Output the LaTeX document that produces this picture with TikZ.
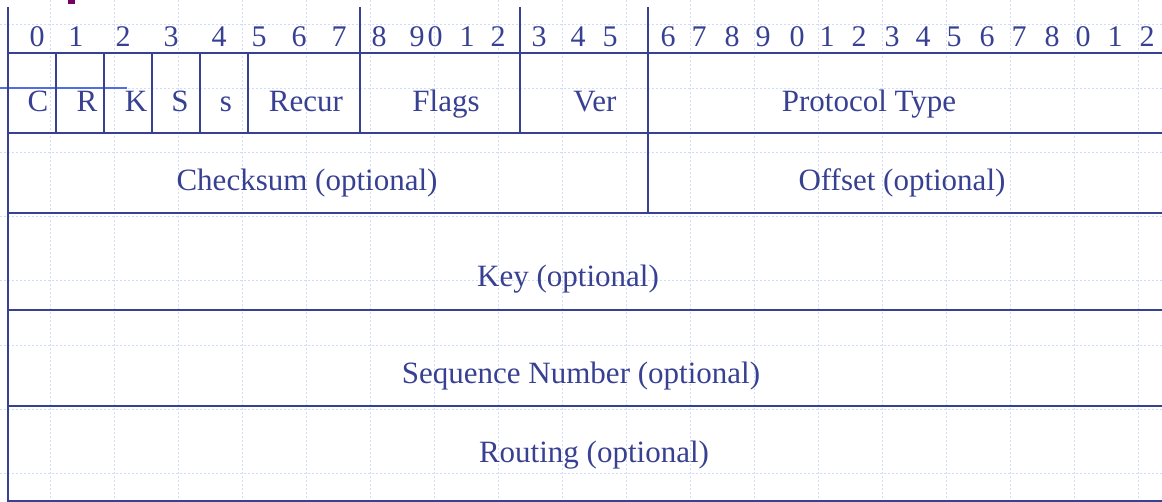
\documentclass[tikz,border=0pt]{standalone}
\usepackage{fontspec}
\setmainfont{Liberation Serif}
\definecolor{pktblue}{RGB}{55,64,145}
\definecolor{gridblue}{RGB}{208,220,255}
\definecolor{markblue}{RGB}{80,110,225}
\definecolor{markpurple}{RGB}{120,0,100}
\tikzset{
  fld/.style={anchor=base, text=pktblue, inner sep=0pt, font=\fontsize{15.5}{18}\selectfont},
  bitno/.style={anchor=base, text=pktblue, inner sep=0pt, font=\fontsize{15}{18}\selectfont},
  pline/.style={draw=pktblue, line width=1pt},
  bggrid/.style={draw=gridblue, line width=0.5pt, dash pattern=on 1.2pt off 0.8pt}
}

\begin{document}
\begin{tikzpicture}[x=0.5pt, y=-0.5pt]
		\useasboundingbox (0,0) rectangle (1162,502);
		% background grid
		\foreach \gx in {50,114,...,1138} \draw[bggrid] (\gx,0) -- (\gx,502);
		\foreach \gy in {25,89,...,473} \draw[bggrid] (0,\gy) -- (1162,\gy);
		% slide leftovers
		\fill[markpurple] (68,0) rectangle (75,4);
		\draw[markblue, line width=0.8pt] (0,88) -- (127,88);
		% frame
		\draw[pline] (8,7) -- (8,502);
		\foreach \hy in {53,133,213,310,406,501} \draw[pline] (8,\hy) -- (1162,\hy);
		\draw[pline] (360,7) -- (360,133);
		\draw[pline] (520,7) -- (520,133);
		\draw[pline] (648,7) -- (648,213);
		\foreach \sx in {56,104,152,200,248} \draw[pline] (\sx,53) -- (\sx,133);
		% bit numbers
		\foreach \bx/\bd [count=\bi] in {37/0,76/1,123/2,171/3,219/4,259/5,299/6,339/7,
			379/8,417/9,435/0,467/1,498/2,539/3,578/4,610/5,
			668/6,699/7,732/8,763/9,797/0,827/1,859/2,892/3,923/4,954/5,987/6,1019/7,1052/8,1083/0,1115/1,1147/2}
			\node[bitno] (b\bi) at (\bx,47) {\bd};
		% header fields
		\node[fld] (fC) at (38,112) {C};
		\node[fld] (fR) at (87,112) {R};
		\node[fld] (fK) at (136,112) {K};
		\node[fld] (fS) at (180,112) {S};
		\node[fld] (fs) at (226,112) {s};
		\node[fld] (recur) at (306,112) {Recur};
		\node[fld] (flags) at (446,112) {Flags};
		\node[fld] (ver) at (595,112) {Ver};
		\node[fld] (ptype) at (869,112) {Protocol Type};
		% optional fields
		\node[fld] (csum) at (307,191) {Checksum (optional)};
		\node[fld] (offs) at (902,191) {Offset (optional)};
		\node[fld] (key) at (568,286) {Key (optional)};
		\node[fld] (seqno) at (581,383) {Sequence Number (optional)};
		\node[fld] (route) at (594,462) {Routing (optional)};
	\end{tikzpicture}
\end{document}
